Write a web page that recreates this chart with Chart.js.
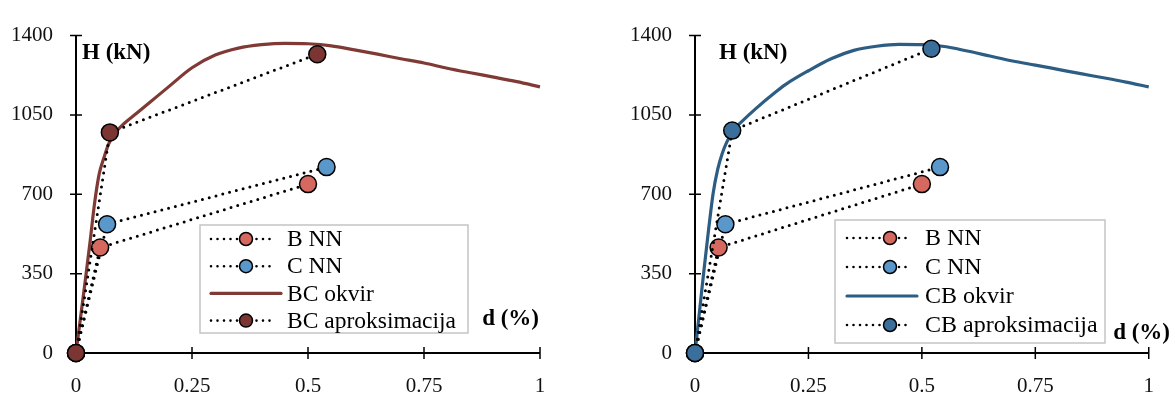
<!DOCTYPE html>
<html>
<head>
<meta charset="utf-8">
<script src="https://cdn.jsdelivr.net/npm/chart.js@4"></script>
<style>
  body { margin: 0; background: #fff; }
  #wrap { position: relative; width: 1175px; height: 396px; }
  canvas { position: absolute; top: 0; }
</style>
</head>
<body>
<div id="wrap">
  <canvas id="cizq" width="590" height="396" style="left:0"></canvas>
  <canvas id="cder" width="556" height="396" style="left:619px"></canvas>
</div>
<script>
// ---- data ----
const xTicks = [0, 0.25, 0.5, 0.75, 1];
const yTicks = [0, 350, 700, 1050, 1400];

const bnnD = [0, 0.052, 0.5];
const bnnH = [0, 465, 745];
const cnnD = [0, 0.067, 0.54];
const cnnH = [0, 568, 820];

const bcOkvirD = [0, 0.01, 0.02, 0.03, 0.04, 0.05, 0.06, 0.07, 0.08, 0.09, 0.1, 0.13, 0.16, 0.2, 0.25,
  0.3, 0.35, 0.4, 0.45, 0.5, 0.55, 0.6, 0.65, 0.7, 0.75, 0.8, 0.85, 0.9, 0.95, 1];
const bcOkvirH = [0, 160, 320, 485, 660, 790, 860, 920, 958, 984, 1005, 1056, 1107, 1175, 1258,
  1314, 1345, 1360, 1366, 1364, 1355, 1337, 1318, 1298, 1279, 1256, 1236, 1217, 1197, 1174];
const bcAproxD = [0, 0.073, 0.52];
const bcAproxH = [0, 973, 1318];

const cbOkvirD = [0, 0.01, 0.02, 0.03, 0.04, 0.05, 0.06, 0.07, 0.08, 0.09, 0.1, 0.134, 0.177, 0.2, 0.25,
  0.3, 0.35, 0.4, 0.45, 0.5, 0.55, 0.6, 0.65, 0.7, 0.75, 0.8, 0.85, 0.9, 0.95, 1];
const cbOkvirH = [0, 185, 370, 545, 705, 810, 880, 930, 965, 995, 1015, 1078, 1150, 1185, 1245,
  1298, 1335, 1353, 1361, 1360, 1352, 1332, 1310, 1288, 1270, 1251, 1232, 1214, 1195, 1174];
const cbAproxD = [0, 0.082, 0.521];
const cbAproxH = [0, 981, 1342];

// ---- helpers ----
const SERIF = "'Liberation Serif', 'Times New Roman', serif";
const zip = (d, h) => d.map((v, i) => ({x: v, y: h[i]}));

function dotted(label, d, h, fill, order) {
    return {
        label: label,
        data: zip(d, h),
        showLine: true,
        borderColor: '#000',
        borderWidth: 3,
        borderDash: [0, 7],
        borderCapStyle: 'round',
        pointRadius: 8.5,
        pointBackgroundColor: fill,
        pointBorderColor: '#000',
        pointBorderWidth: 1.5,
        clip: false,
        order: order,
        legendKind: 'dots'
    };
}

function solid(label, d, h, color, order) {
    return {
        label: label,
        data: zip(d, h),
        showLine: true,
        borderColor: color,
        borderWidth: 3.2,
        cubicInterpolationMode: 'monotone',
        pointRadius: 0,
        clip: false,
        order: order,
        legendKind: 'line'
    };
}

// axes lines + crossing tick marks
const axesPlugin = {
    id: 'axesCross',
    beforeDatasetsDraw(chart) {
        const ctx = chart.ctx;
        const xs = chart.scales.x, ys = chart.scales.y;
        const x0 = xs.getPixelForValue(0), y0 = ys.getPixelForValue(0);
        ctx.save();
        ctx.strokeStyle = '#000';
        ctx.lineWidth = 2;
        ctx.beginPath();
        ctx.moveTo(x0, ys.getPixelForValue(1400));
        ctx.lineTo(x0, y0);
        ctx.lineTo(xs.getPixelForValue(1), y0);
        ctx.stroke();
        ctx.lineWidth = 1.5;
        ctx.beginPath();
        yTicks.forEach(v => {
            const p = ys.getPixelForValue(v);
            ctx.moveTo(x0 - 6, p);
            ctx.lineTo(x0 + 6, p);
        });
        xTicks.forEach(v => {
            const p = xs.getPixelForValue(v);
            ctx.moveTo(p, y0 - 6);
            ctx.lineTo(p, y0 + 6);
        });
        ctx.stroke();
        ctx.restore();
    }
};

// legend box with dotted sample + marker, and the axis titles
const extrasPlugin = {
    id: 'extras',
    afterDraw(chart, args, o) {
        const ctx = chart.ctx;
        ctx.save();
        // titles
        ctx.fillStyle = '#000';
        ctx.font = 'bold 23px ' + SERIF;
        ctx.textBaseline = 'middle';
        ctx.textAlign = 'left';
        ctx.fillText('H (kN)', o.hx, o.hy);
        ctx.textAlign = 'right';
        ctx.fillText('d (%)', o.dx, o.dy);

        // legend
        const L = o.legend;
        ctx.fillStyle = '#fff';
        ctx.fillRect(L.x, L.y, L.w, L.h);
        ctx.strokeStyle = '#c4c4c4';
        ctx.lineWidth = 1.5;
        ctx.strokeRect(L.x, L.y, L.w, L.h);
        ctx.textAlign = 'left';
        ctx.font = L.font + 'px ' + SERIF;
        chart.data.datasets.forEach((ds, i) => {
            const cy = L.row0 + i * L.rowH;
            if (ds.legendKind === 'line') {
                ctx.strokeStyle = ds.borderColor;
                ctx.lineWidth = 3.2;
                ctx.setLineDash([]);
                ctx.beginPath();
                ctx.moveTo(L.s0, cy);
                ctx.lineTo(L.s1, cy);
                ctx.stroke();
            } else {
                ctx.strokeStyle = '#000';
                ctx.lineWidth = 2.6;
                ctx.lineCap = 'round';
                ctx.setLineDash([0, 6.5]);
                ctx.beginPath();
                ctx.moveTo(L.s0, cy);
                ctx.lineTo(L.s1 - 5, cy);
                ctx.stroke();
                ctx.setLineDash([]);
                ctx.beginPath();
                ctx.arc(L.mx, cy, 6.5, 0, Math.PI * 2);
                ctx.fillStyle = ds.pointBackgroundColor;
                ctx.fill();
                ctx.lineWidth = 1.5;
                ctx.stroke();
            }
            ctx.fillStyle = '#000';
            ctx.fillText(ds.label, L.tx, cy + 1);
        });
        ctx.restore();
    }
};

function makeOptions(rightPad, extras) {
    return {
        responsive: false,
        animation: false,
        layout: {padding: {top: 24, right: rightPad, bottom: 0, left: 0}},
        scales: {
            x: {
                type: 'linear', min: 0, max: 1,
                afterFit: s => { s.height = 43; },
                afterBuildTicks: s => { s.ticks = xTicks.map(v => ({value: v})); },
                grid: {display: false, drawTicks: false},
                border: {display: false},
                ticks: {padding: 21, color: '#111',
                        font: {family: SERIF, size: 21},
                        callback: v => String(Math.round(v * 100) / 100)}
            },
            y: {
                type: 'linear', min: 0, max: 1400,
                afterFit: s => { s.width = 76; },
                afterBuildTicks: s => { s.ticks = yTicks.map(v => ({value: v})); },
                grid: {display: false, drawTicks: false},
                border: {display: false},
                ticks: {padding: 23, color: '#111',
                        font: {family: SERIF, size: 21},
                        callback: v => String(v)}
            }
        },
        plugins: {
            legend: {display: false},
            tooltip: {enabled: false},
            extras: extras
        }
    };
}

new Chart(document.getElementById('cizq').getContext('2d'), {
    type: 'scatter',
    data: {
        datasets: [
            dotted('B NN', bnnD, bnnH, '#d5685f', 1),
            dotted('C NN', cnnD, cnnH, '#5a98cc', 2),
            solid('BC okvir', bcOkvirD, bcOkvirH, '#7f3a36', 3),
            dotted('BC aproksimacija', bcAproxD, bcAproxH, '#7b3532', 0)
        ]
    },
    options: makeOptions(50, {
        hx: 82, hy: 53, dx: 539, dy: 319,
        legend: {x: 200, y: 225, w: 268, h: 108, row0: 239, rowH: 27.2, font: 23.5,
                 s0: 211, s1: 281, mx: 246, tx: 287}
    }),
    plugins: [axesPlugin, extrasPlugin]
});

new Chart(document.getElementById('cder').getContext('2d'), {
    type: 'scatter',
    data: {
        datasets: [
            dotted('B NN', bnnD, bnnH, '#d5685f', 1),
            dotted('C NN', cnnD, cnnH, '#5a98cc', 2),
            solid('CB okvir', cbOkvirD, cbOkvirH, '#2d5d82', 3),
            dotted('CB aproksimacija', cbAproxD, cbAproxH, '#3a6e9b', 0)
        ]
    },
    options: makeOptions(16, {
        hx: 100, hy: 53, dx: 551, dy: 333,
        legend: {x: 216, y: 220, w: 270, h: 123, row0: 238, rowH: 29, font: 24,
                 s0: 228, s1: 298, mx: 271, tx: 306}
    }),
    plugins: [axesPlugin, extrasPlugin]
});
</script>
</body>
</html>
